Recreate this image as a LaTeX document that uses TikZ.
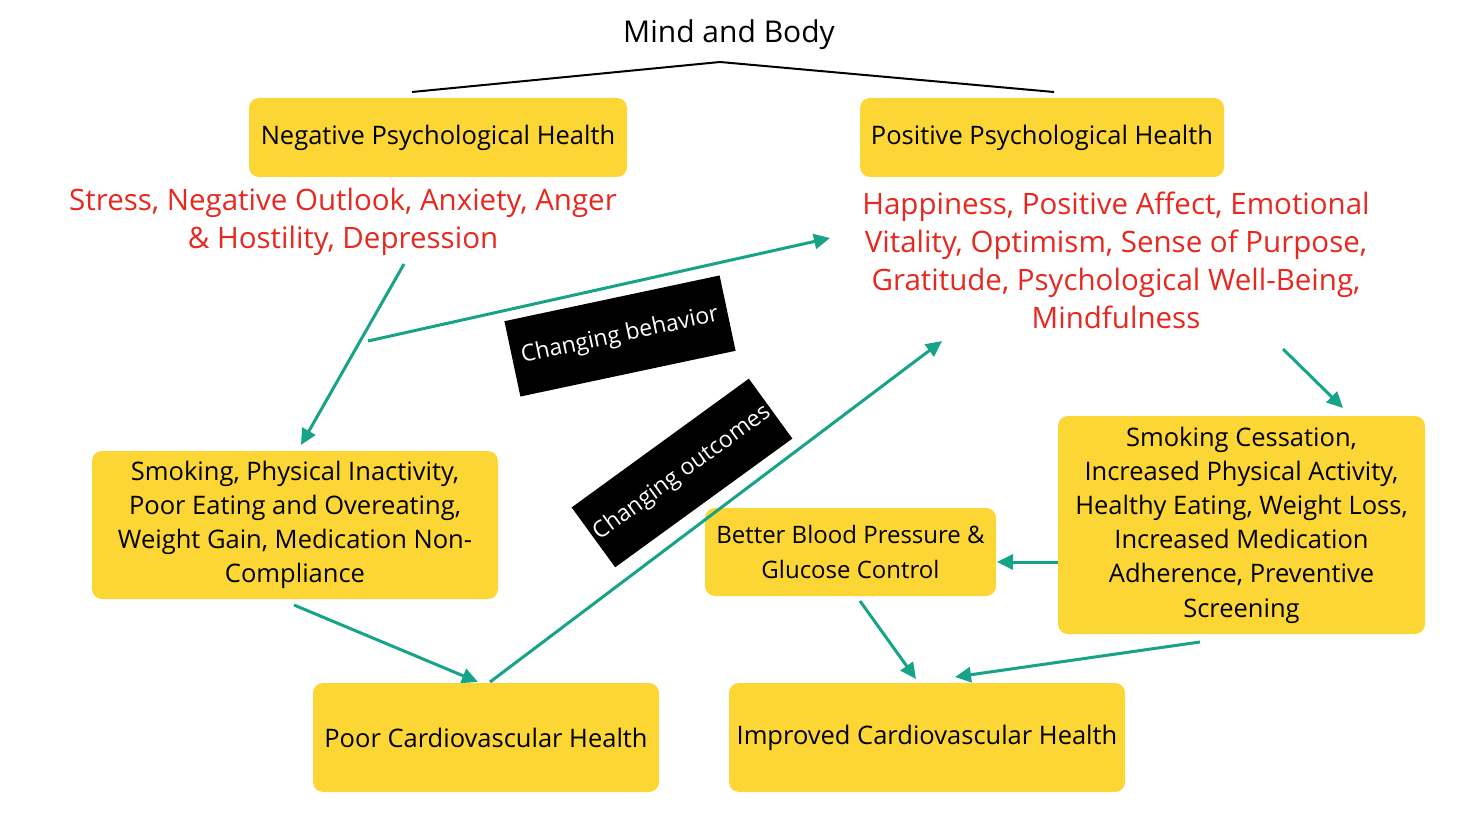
\documentclass[tikz,border=0pt]{standalone}
\usepackage{fontspec}
\setmainfont{Open Sans}
\usetikzlibrary{arrows.meta}
\definecolor{boxyellow}{RGB}{252,214,52}
\definecolor{arrteal}{RGB}{22,163,135}
\definecolor{redtxt}{RGB}{232,40,30}
\tikzset{
  ybox/.style={fill=boxyellow, rounded corners=10pt, inner sep=0pt, align=center, font=\fontsize{25.5}{34.2}\selectfont},
  redlab/.style={text=redtxt, align=center, font=\fontsize{29.5}{38}\selectfont},
  blackbox/.style={fill=black, text=white, inner sep=0pt, font=\fontsize{23}{26}\selectfont},
  flow/.style={draw=arrteal, line width=3pt, -{Triangle[length=16pt,width=15pt]}},
}
\begin{document}
\begin{tikzpicture}[x=1pt,y=-1pt]
\useasboundingbox (0,0) rectangle (1460,821);
% title and bracket
\node[font=\fontsize{30}{34}\selectfont] (title) at (729,35) {Mind and Body};
\coordinate (bl) at (412,92);
\coordinate (bt) at (720,62);
\coordinate (br) at (1054,92);
\draw[line width=2pt] (bl) -- (bt) -- (br);
% yellow boxes
\node[ybox, minimum width=378pt, minimum height=79pt] (neg) at (438,137.5) {Negative Psychological Health};
\node[ybox, minimum width=364pt, minimum height=79pt] (pos) at (1042,137.5) {Positive Psychological Health};
\node[ybox, minimum width=406pt, minimum height=148pt] (bad) at (295,525) {Smoking, Physical Inactivity,\\Poor Eating and Overeating,\\Weight Gain, Medication Non-\\Compliance};
\node[ybox, minimum width=346pt, minimum height=109pt] (poor) at (486,737.5) {Poor Cardiovascular Health};
\node[ybox, minimum width=396pt, minimum height=109pt] (impr) at (927,737.5) {Improved Cardiovascular Health};
\node[ybox, minimum width=291pt, minimum height=88pt, font=\fontsize{24}{34.2}\selectfont] (bp) at (850.5,552) {Better Blood Pressure \&\\Glucose Control};
\node[ybox, minimum width=367pt, minimum height=218pt] (good) at (1241.5,525) {Smoking Cessation,\\Increased Physical Activity,\\Healthy Eating, Weight Loss,\\Increased Medication\\Adherence, Preventive\\Screening};
% red texts
\node[redlab] (negtxt) at (343,222) {Stress, Negative Outlook, Anxiety, Anger\\\& Hostility, Depression};
\node[redlab] (postxt) at (1116,260) {Happiness, Positive Affect, Emotional\\Vitality, Optimism, Sense of Purpose,\\Gratitude, Psychological Well-Being,\\Mindfulness};
% black labels
\node[blackbox, minimum width=220pt, minimum height=77pt, rotate=12] (cb) at (620,336) {Changing behavior};
\node[blackbox, minimum width=219pt, minimum height=74pt, rotate=36] (co) at (682,473) {Changing outcomes};
% arrow end points
\coordinate (a1s) at (404,264);
\coordinate (a1e) at (301,445);
\coordinate (a2s) at (368,341);
\coordinate (a2e) at (830,238);
\coordinate (a3s) at (294,605);
\coordinate (a3e) at (478,682);
\coordinate (a4s) at (490,682);
\coordinate (a4e) at (942,341);
\coordinate (a5s) at (1283,349);
\coordinate (a5e) at (1343,408);
\coordinate (a6s) at (1058,562);
\coordinate (a6e) at (997,562);
\coordinate (a7s) at (860,601);
\coordinate (a7e) at (916,679);
\coordinate (a8s) at (1200,642);
\coordinate (a8e) at (955,677);
\draw[flow] (a1s) -- (a1e);
\draw[flow] (a2s) -- (a2e);
\draw[flow] (a3s) -- (a3e);
\draw[flow] (a4s) -- (a4e);
\draw[flow] (a5s) -- (a5e);
\draw[flow] (a6s) -- (a6e);
\draw[flow] (a7s) -- (a7e);
\draw[flow] (a8s) -- (a8e);
\end{tikzpicture}
\end{document}
